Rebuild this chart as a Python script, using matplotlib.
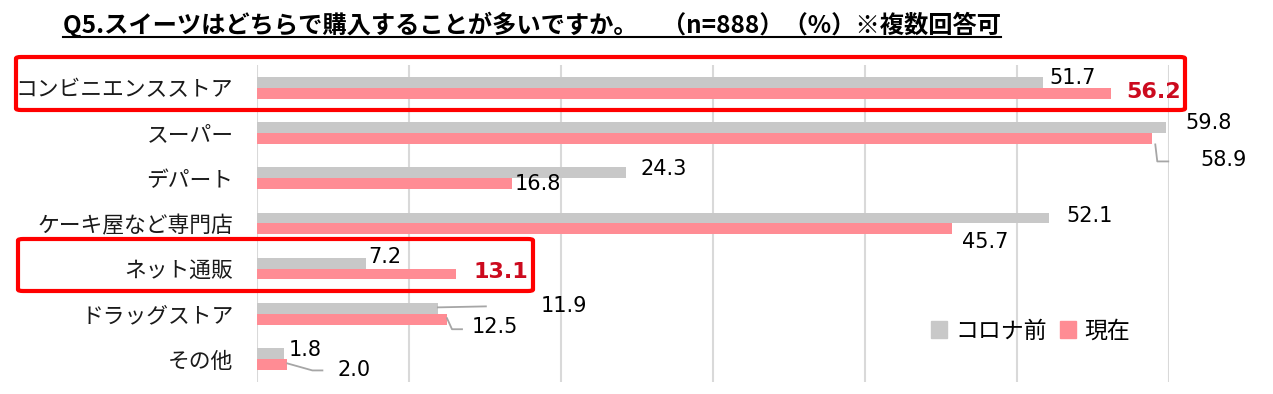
import matplotlib
matplotlib.use("Agg")
import matplotlib.pyplot as plt
from matplotlib.patches import Patch, FancyBboxPatch
from matplotlib.lines import Line2D
import numpy as np

plt.rcParams['font.family'] = ['Noto Sans CJK JP', 'DejaVu Sans']

categories = ["コンビニエンスストア", "スーパー", "デパート", "ケーキ屋など専門店",
              "ネット通販", "ドラッグストア", "その他"]
before = [51.7, 59.8, 24.3, 52.1, 7.2, 11.9, 1.8]
now = [56.2, 58.9, 16.8, 45.7, 13.1, 12.5, 2.0]
series_names = ["コロナ前", "現在"]
title = "Q5.スイーツはどちらで購入することが多いですか。　（n=888）（%）※複数回答可"
highlight = [0, 4]  # categories with red boxes / bold red "now" labels

GRAY = "#C8C8C8"
PINK = "#FF8C94"
BOXRED = "#FF0000"
LBLRED = "#CC0A1E"
LEADER = "#A6A6A6"

W, H = 1273, 394
fig = plt.figure(figsize=(W / 100, H / 100), dpi=100)

# axes in pixel geometry
ax_l, ax_r, ax_t, ax_b = 257, 1169, 65.2, 381.6
ax = fig.add_axes([ax_l / W, 1 - ax_b / H, (ax_r - ax_l) / W, (ax_b - ax_t) / H])

y = np.arange(len(categories))
bh = 0.24
ax.barh(y - bh / 2, before, height=bh, color=GRAY, zorder=3)
ax.barh(y + bh / 2, now, height=bh, color=PINK, zorder=3)

ax.set_xlim(0, 60)
ax.set_ylim(len(categories) - 0.5, -0.5)
ax.set_xticks(np.arange(0, 61, 10))
ax.xaxis.grid(True, color="#D9D9D9", linewidth=1.5, zorder=0)
ax.tick_params(axis='x', length=0, labelbottom=False)
ax.tick_params(axis='y', length=0, pad=17)
ax.set_yticks(y)
ax.set_yticklabels(categories, fontsize=15.7, color="#1A1A1A")
for s in ax.spines.values():
    s.set_visible(False)

# label offsets in pixels (dx right, dy down) relative to bar end / bar centre
before_off = [(7, -4), (19, -5), (14, -4), (17, -2), (2, -6), (103, -2), (4, -4)]
now_off = [(15, -1), (48, 22), (2, 0), (10, 13), (17, -2), (25, 8), (50, 6)]

px_per_x = (ax_r - ax_l) / 60.0
px_per_y = (ax_b - ax_t) / len(categories)


def pxy(v, yc, dx, dy):
    return v + dx / px_per_x, yc + dy / px_per_y


for i, v in enumerate(before):
    dx, dy = before_off[i]
    ax.annotate(f"{v:.1f}", xy=(v, i - bh / 2), xytext=(dx, -dy), textcoords='offset pixels',
                ha='left', va='center', fontsize=15, family='DejaVu Sans', color='black')
for i, v in enumerate(now):
    dx, dy = now_off[i]
    if i in highlight:
        kw = dict(fontsize=16, fontweight='bold', color=LBLRED)
    else:
        kw = dict(fontsize=15, color='black')
    ax.annotate(f"{v:.1f}", xy=(v, i + bh / 2), xytext=(dx, -dy), textcoords='offset pixels',
                ha='left', va='center', family='DejaVu Sans', **kw)

# leader lines (pixel offsets from bar end)
leaders = [
    ("now", 1, [(3, 6), (5, 23), (16, 23)]),
    ("before", 5, [(0, -1), (48, -2)]),
    ("now", 5, [(0, -1), (5, 10), (15, 10)]),
    ("now", 6, [(0, -1), (25, 6), (35, 6)]),
]
for ser, i, pts in leaders:
    v = now[i] if ser == "now" else before[i]
    yc = i + bh / 2 if ser == "now" else i - bh / 2
    xs, ys = zip(*[pxy(v, yc, dx, dy) for dx, dy in pts])
    ax.plot(xs, ys, color=LEADER, lw=1.3, zorder=4, clip_on=False)

# legend
handles = [Patch(color=GRAY), Patch(color=PINK)]
fig.legend(handles, series_names, loc='center left', bbox_to_anchor=(931 / W, 1 - 331 / H),
           ncol=2, frameon=False, fontsize=16.5, handlelength=0.7, handleheight=0.7,
           handletextpad=0.35, columnspacing=0.6, borderaxespad=0, borderpad=0)

# red highlight boxes (figure pixel coords of centre line)
for (x0, y0, x1, y1) in [(16, 57, 1185, 110), (18, 239, 533, 291)]:
    fig.patches.append(FancyBboxPatch((x0 / W, 1 - y1 / H), (x1 - x0) / W, (y1 - y0) / H,
                                      boxstyle="round,pad=0,rounding_size=0.004",
                                      transform=fig.transFigure, fill=False,
                                      edgecolor=BOXRED, linewidth=3, zorder=10))

# title with underline
t = fig.text(63 / W, 1 - 33 / H, title, fontsize=17.5, fontweight='bold', ha='left',
             va='baseline', color='black')
fig.canvas.draw()
bb = t.get_window_extent(fig.canvas.get_renderer())
uy = (1 - 37 / H)
fig.add_artist(Line2D([bb.x0 / W, bb.x1 / W], [uy, uy], transform=fig.transFigure,
                      color='black', lw=1.5))

fig.savefig("out.png", dpi=100)
